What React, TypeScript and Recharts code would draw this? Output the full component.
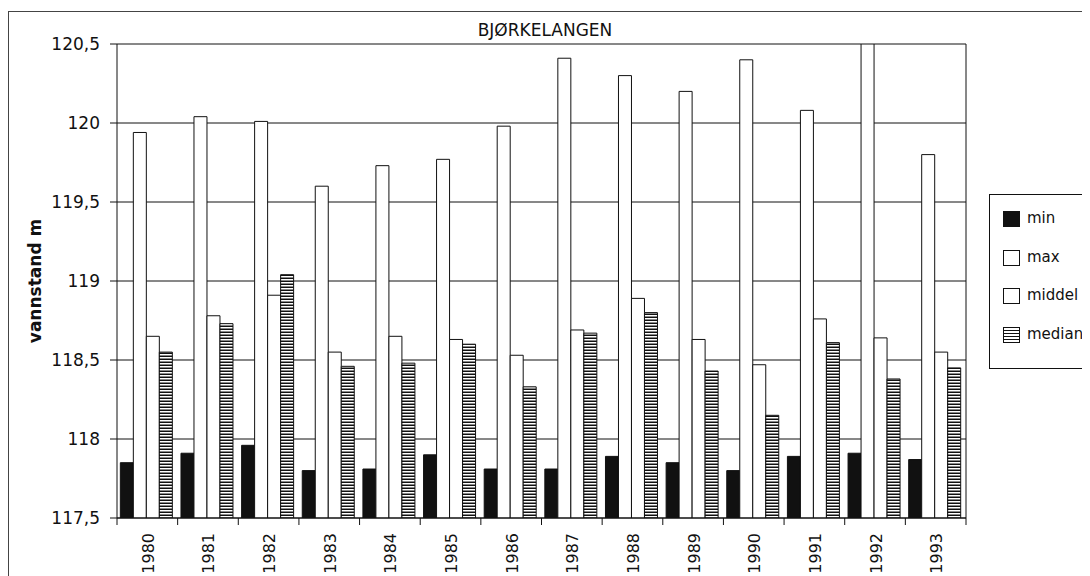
import React from "react";
import {
  Bar,
  BarChart,
  CartesianGrid,
  Legend,
  XAxis,
  YAxis,
} from "recharts";

// values (metres above sea level)
const years = [
  "1980", "1981", "1982", "1983", "1984", "1985", "1986",
  "1987", "1988", "1989", "1990", "1991", "1992", "1993",
];
const minValues = [
  117.85, 117.91, 117.96, 117.8, 117.81, 117.9, 117.81,
  117.81, 117.89, 117.85, 117.8, 117.89, 117.91, 117.87,
];
const maxValues = [
  119.94, 120.04, 120.01, 119.6, 119.73, 119.77, 119.98,
  120.41, 120.3, 120.2, 120.4, 120.08, 120.5, 119.8,
];
const middelValues = [
  118.65, 118.78, 118.91, 118.55, 118.65, 118.63, 118.53,
  118.69, 118.89, 118.63, 118.47, 118.76, 118.64, 118.55,
];
const medianValues = [
  118.55, 118.73, 119.04, 118.46, 118.48, 118.6, 118.33,
  118.67, 118.8, 118.43, 118.15, 118.61, 118.38, 118.45,
];
const yTicks = [117.5, 118, 118.5, 119, 119.5, 120, 120.5];

const data = years.map((year, i) => ({
  year,
  min: minValues[i],
  max: maxValues[i],
  middel: middelValues[i],
  median: medianValues[i],
}));

const FONT = "'DejaVu Sans', sans-serif";
const INK = "#111";

const CHART_W = 1081;
const CHART_H = 565;
const MARGIN = { top: 32, right: 124, left: 0, bottom: 0 };
const Y_AXIS_W = 108;
const PLOT_W = CHART_W - MARGIN.right - MARGIN.left - Y_AXIS_W;
const BAND = PLOT_W / years.length;

const HATCH = "repeating-linear-gradient(to bottom, #fff 0px, #fff 1.5px, #111 1.5px, #111 3px)";

const legendItems = [
  { name: "min", kind: "solid" },
  { name: "max", kind: "open" },
  { name: "middel", kind: "open" },
  { name: "median", kind: "hatch" },
];

function YearTick(props: any) {
  const { x, y, payload, index, visibleTicksCount } = props;
  const left = x - BAND / 2;
  const right = x + BAND / 2;
  const ty = y + 15;
  return (
    <g>
      <line x1={left} y1={y} x2={left} y2={y + 7} stroke={INK} />
      {index === visibleTicksCount - 1 && (
        <line x1={right} y1={y} x2={right} y2={y + 7} stroke={INK} />
      )}
      <text
        x={x + 1}
        y={ty}
        transform={`rotate(-90, ${x + 1}, ${ty})`}
        textAnchor="end"
        dominantBaseline="central"
        fontSize={16}
        fontFamily={FONT}
        fill={INK}
      >
        {payload.value}
      </text>
    </g>
  );
}

function YLabel(props: any) {
  const { viewBox } = props;
  const cx = viewBox.x + 26;
  const cy = viewBox.y + viewBox.height / 2;
  return (
    <text
      x={cx}
      y={cy}
      transform={`rotate(-90, ${cx}, ${cy})`}
      textAnchor="middle"
      dominantBaseline="central"
      fontSize={17}
      fontWeight="bold"
      fontFamily={FONT}
      fill={INK}
    >
      vannstand m
    </text>
  );
}

function LegendBox() {
  return (
    <div
      style={{
        position: "relative",
        width: 130,
        height: 173,
        border: `1px solid ${INK}`,
        background: "#fff",
        fontFamily: FONT,
        fontSize: 15,
        color: INK,
      }}
    >
      {legendItems.map((item, i) => (
        <div
          key={item.name}
          style={{ position: "absolute", left: 13, top: 24 + i * 38.5 - 10, height: 20 }}
        >
          <span
            style={{
              position: "absolute",
              left: 0,
              top: 2,
              width: 15,
              height: 14,
              border: `1.5px solid ${INK}`,
              background:
                item.kind === "solid" ? INK : item.kind === "hatch" ? HATCH : "#fff",
            }}
          />
          <span style={{ position: "absolute", left: 24, top: -1, lineHeight: "20px" }}>
            {item.name}
          </span>
        </div>
      ))}
    </div>
  );
}

export default function App() {
  return (
    <div style={{ paddingTop: 3 }}>
      <style>{`body{overflow:hidden}`}</style>
      <div
        style={{
          position: "relative",
          width: CHART_W + 1,
          height: CHART_H,
          borderLeft: "1px solid #444",
          borderTop: "1px solid #444",
          background: "#fff",
        }}
      >
        <div
          style={{
            position: "absolute",
            left: 545 - 9 - 200,
            top: 7,
            width: 400,
            textAlign: "center",
            fontFamily: FONT,
            fontSize: 17,
            lineHeight: "22px",
            color: INK,
          }}
        >
          BJØRKELANGEN
        </div>
        <BarChart
          width={CHART_W}
          height={CHART_H}
          data={data}
          margin={MARGIN}
          barCategoryGap="5.5%"
          barGap={0}
        >
          <defs>
            <pattern id="hatch" width={4} height={3} patternUnits="userSpaceOnUse">
              <rect width={4} height={3} fill="#fff" />
              <rect y={1.5} width={4} height={1.5} fill={INK} />
            </pattern>
          </defs>
          <CartesianGrid
            stroke={INK}
            strokeWidth={1}
            vertical
            verticalCoordinatesGenerator={({ offset }: any) => [offset.left + offset.width]}
          />
          <XAxis
            dataKey="year"
            height={59}
            axisLine={{ stroke: INK }}
            tickLine={false}
            tickSize={0}
            tickMargin={0}
            interval={0}
            tick={<YearTick />}
          />
          <YAxis
            width={Y_AXIS_W}
            domain={[117.5, 120.5]}
            ticks={yTicks}
            allowDataOverflow
            axisLine={{ stroke: INK }}
            tickLine={{ stroke: INK }}
            tickSize={7}
            tickMargin={10}
            tick={{ fill: INK, fontSize: 17, fontFamily: FONT }}
            tickFormatter={(v: number) => String(v).replace(".", ",")}
            label={<YLabel />}
          />
          <Legend
            layout="vertical"
            align="center"
            verticalAlign="middle"
            wrapperStyle={{ position: "absolute", left: 980, top: 182, width: 132 }}
            content={<LegendBox />}
          />
          <Bar dataKey="min" fill={INK} stroke={INK} strokeWidth={1} isAnimationActive={false} />
          <Bar dataKey="max" fill="#fff" stroke={INK} strokeWidth={1} isAnimationActive={false} />
          <Bar dataKey="middel" fill="#fff" stroke={INK} strokeWidth={1} isAnimationActive={false} />
          <Bar dataKey="median" fill="url(#hatch)" stroke={INK} strokeWidth={1} isAnimationActive={false} />
        </BarChart>
      </div>
    </div>
  );
}
